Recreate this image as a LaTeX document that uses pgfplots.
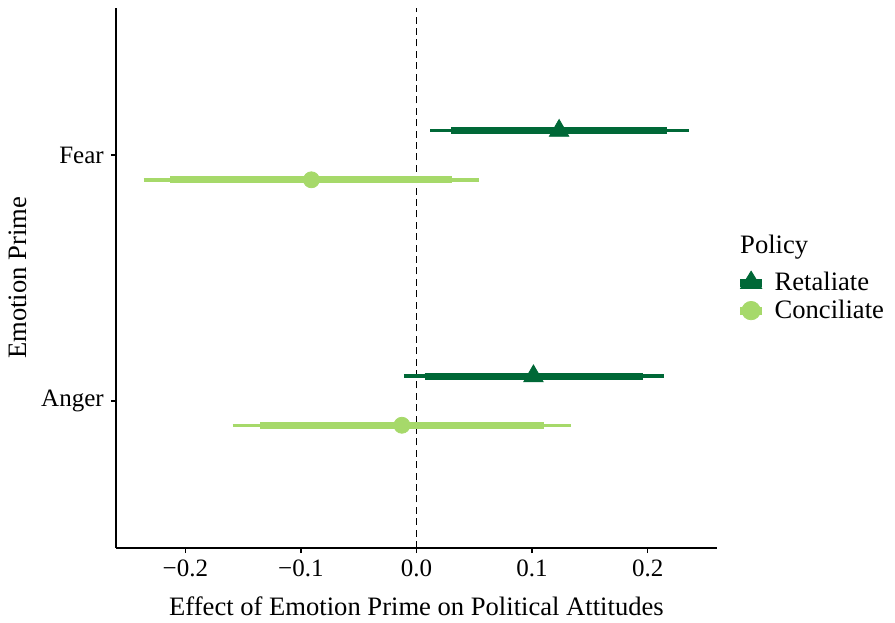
\documentclass[border=0pt]{standalone}
\usepackage{pgfplots}
\pgfplotsset{compat=1.18}
\usepackage{fontspec}
\setmainfont{Liberation Serif}

\definecolor{retal}{HTML}{006837}
\definecolor{concil}{HTML}{A6D96A}

\begin{document}
\begin{tikzpicture}
\begin{axis}[
    scale only axis,
    width=300.5pt,
    height=270pt,
    xmin=-0.26, xmax=0.26,
    ymin=0.4, ymax=2.6,
    axis x line=bottom,
    axis y line=left,
    axis line style={-, line width=0.8pt},
    tick align=outside,
    major tick length=2.6pt,
    tick style={line width=0.8pt, black},
    xtick={-0.2,-0.1,0,0.1,0.2},
    xticklabels={−0.2,−0.1,0.0,0.1,0.2},
    ytick={1,2},
    yticklabels={Anger,Fear},
    ticklabel style={font=\fontsize{12.5}{14}\selectfont},
    xlabel={Effect of Emotion Prime on Political Attitudes},
    ylabel={Emotion Prime},
    label style={font=\fontsize{13.3}{15}\selectfont},
    xlabel style={at={(axis description cs:0.5,-0.1074)}, anchor=center},
    ylabel style={at={(axis description cs:-0.163,0.5)}, anchor=center},
    clip=false,
    legend style={at={(1.038,0.465)}, anchor=west, draw=none, fill=none,
        inner sep=0pt, font=\fontsize{13.3}{15}\selectfont, row sep=-1pt},
    legend cell align={left},
]

% zero reference line
\addplot[forget plot, black, line width=0.8pt, dash pattern=on 3.5pt off 2.2pt]
coordinates {(0,0.4) (0,2.6)};

% Retaliate: outer intervals (thin)
\addplot[forget plot, retal, line width=1.7pt] coordinates {(0.012,2.1) (0.236,2.1)};
\addplot[forget plot, retal, line width=1.7pt] coordinates {(-0.011,1.1) (0.214,1.1)};
% Retaliate: inner intervals (thick)
\addplot[forget plot, retal, line width=3.4pt] coordinates {(0.030,2.1) (0.217,2.1)};
\addplot[forget plot, retal, line width=3.4pt] coordinates {(0.007,1.1) (0.196,1.1)};

% Conciliate: thin
\addplot[forget plot, concil, line width=1.7pt] coordinates {(-0.236,1.9) (0.054,1.9)};
\addplot[forget plot, concil, line width=1.7pt] coordinates {(-0.159,0.9) (0.134,0.9)};
% Conciliate: thick
\addplot[forget plot, concil, line width=3.4pt] coordinates {(-0.213,1.9) (0.031,1.9)};
\addplot[forget plot, concil, line width=3.4pt] coordinates {(-0.135,0.9) (0.110,0.9)};

% point estimates
\addplot[only marks, mark=triangle*, mark size=5.6pt, color=retal,
    legend image code/.code={
        \path[draw=none, fill=none] (0pt,0pt) -- (15pt,0pt);
        \fill[retal] (0pt,-1.7pt) rectangle (10.5pt,1.7pt);
        \fill[retal] (0pt,-2.6pt) -- (10.5pt,-2.6pt) -- (5.25pt,6pt) -- cycle;
    }]
coordinates {(0.1234,2.1) (0.1012,1.1)};
\addlegendentry{Retaliate}

\addplot[only marks, mark=*, mark size=4pt, color=concil,
    legend image code/.code={
        \path[draw=none, fill=none] (0pt,0pt) -- (15pt,0pt);
        \fill[concil] (0pt,-1.7pt) rectangle (10.5pt,1.7pt);
        \fill[concil] (5.25pt,0pt) circle (4.6pt);
    }]
coordinates {(-0.0909,1.9) (-0.0126,0.9)};
\addlegendentry{Conciliate}

\node[anchor=west, inner sep=0pt, font=\fontsize{13.3}{15}\selectfont]
    at (axis description cs:1.038,0.557) {Policy};

% page frame
\path (axis description cs:-0.193,-0.1296) rectangle (axis description cs:1.2962,1.0148);

\end{axis}
\end{tikzpicture}
\end{document}
